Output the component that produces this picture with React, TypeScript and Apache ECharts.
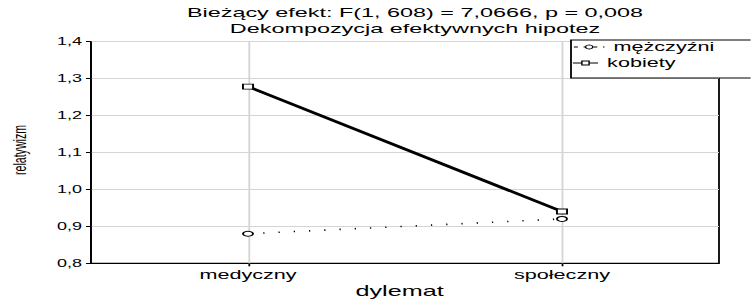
import React, { useEffect, useRef } from "react";
import * as echarts from "echarts";

const categories = ["medyczny", "społeczny"];
const menValues = [0.88, 0.92];
const womenValues = [1.278, 0.94];
const seriesNames = ["mężczyźni", "kobiety"];
const yTicks = { min: 0.8, max: 1.4, interval: 0.1 };
const titleLines = ["Bieżący efekt: F(1, 608) = 7,0666, p = 0,008", "Dekompozycja efektywnych hipotez"];
const xName = "dylemat";
const yName = "relatywizm";

const W = 751;
const H = 299;
const SX = 1.8; // horizontal stretch of the original picture
const VW = W / SX;
const FONT = "'Liberation Sans', Arial, Helvetica, sans-serif";

export default function App() {
  const ref = useRef<HTMLDivElement>(null);
  useEffect(() => {
    if (!ref.current) return;
    const chart = echarts.init(ref.current, undefined, { renderer: "svg", width: VW, height: H });
    const gridLeft = 91 / SX;
    const gridRight = VW - 719 / SX;
    chart.setOption({
      animation: false,
      backgroundColor: "#ffffff",
      textStyle: { fontFamily: FONT },
      title: {
        text: titleLines.join("\n"),
        left: 415 / SX,
        top: 5,
        padding: 0,
        textAlign: "center",
        textStyle: { fontFamily: FONT, fontSize: 13, fontWeight: "normal", color: "#000", lineHeight: 16 },
      },
      grid: {
        left: gridLeft,
        right: gridRight,
        top: 41.5,
        bottom: H - 263.3,
        show: true,
        borderColor: "#000",
        borderWidth: 1,
        backgroundColor: "transparent",
        containLabel: false,
        outerBoundsMode: "none",
      },
      legend: [
        {
          data: [seriesNames[0]],
          left: 573 / SX,
          top: 40,
          padding: 0,
          itemWidth: 17,
          itemHeight: 5,
          itemGap: 2,
          z: 120,
          itemStyle: { borderWidth: 0.8 },
          textStyle: { fontFamily: FONT, fontSize: 12, color: "#000", lineHeight: 14 },
          lineStyle: { type: [2.2, 3.2], width: 1, color: "#000" },
        },
        {
          data: [seriesNames[1]],
          left: 572 / SX,
          top: 56,
          padding: 0,
          itemWidth: 14,
          itemHeight: 5,
          itemGap: 2,
          z: 120,
          itemStyle: { borderWidth: 0.8 },
          textStyle: { fontFamily: FONT, fontSize: 12, color: "#000", lineHeight: 14 },
          lineStyle: { type: "solid", width: 1, color: "#000" },
        },
      ],
      graphic: [
        {
          type: "rect",
          z: 110,
          shape: { x: 571 / SX, y: 40, width: 120, height: 38 },
          style: { fill: "#fff", stroke: "#000", lineWidth: 1 },
        },
        {
          type: "text",
          z: 110,
          x: 19 / SX,
          y: 150,
          rotation: Math.PI / 2,
          style: {
            text: yName,
            fontFamily: FONT,
            fontSize: 10.6,
            fill: "#000",
            align: "center",
            verticalAlign: "middle",
          },
        },
      ],
      xAxis: {
        type: "category",
        data: categories,
        boundaryGap: true,
        name: xName,
        nameLocation: "middle",
        nameGap: 20,
        nameMoveOverlap: false,
        nameTextStyle: { fontFamily: FONT, fontSize: 14, lineHeight: 15, color: "#000", padding: [0, 6, 0, 0] },
        axisLine: { show: true, lineStyle: { color: "#000", width: 1 } },
        axisTick: { show: true, alignWithLabel: true, length: 3, lineStyle: { color: "#000" } },
        axisLabel: { fontFamily: FONT, fontSize: 12, color: "#000", margin: 6 },
        splitLine: { show: false },
      },
      yAxis: {
        type: "value",
        min: yTicks.min,
        max: yTicks.max,
        interval: yTicks.interval,
        axisLine: { show: true, lineStyle: { color: "#000", width: 1 } },
        axisTick: { show: true, length: 2.8, lineStyle: { color: "#000" } },
        axisLabel: {
          fontFamily: FONT,
          fontSize: 10,
          color: "#000",
          margin: 5,
          formatter: (v: number) => v.toFixed(1).replace(".", ","),
        },
        splitLine: { show: true, lineStyle: { color: "#d4d4d4", width: 1 } },
      },
      series: [
        {
          name: seriesNames[0],
          type: "line",
          data: menValues,
          symbol: "circle",
          symbolSize: [5.6, 5],
          z: 4,
          itemStyle: { color: "#fff", borderColor: "#000", borderWidth: 1 },
          lineStyle: { color: "#000", width: 1.6, type: [0.7, 7.8] },
          markLine: {
            silent: true,
            symbol: "none",
            label: { show: false },
            z: 1,
            lineStyle: { color: "#d4d4d4", width: 1, type: "solid" },
            data: categories.map((c) => ({ xAxis: c })),
          },
        },
        {
          name: seriesNames[1],
          type: "line",
          data: womenValues,
          symbol: "rect",
          symbolSize: [5.6, 5],
          z: 5,
          itemStyle: { color: "#fff", borderColor: "#000", borderWidth: 1 },
          lineStyle: { color: "#000", width: 2.5, type: "solid" },
        },
      ],
    });
    return () => chart.dispose();
  }, []);

  return (
    <div style={{ position: "fixed", left: 0, top: 0, width: W, height: H, overflow: "hidden", background: "#fff" }}>
      <div
        ref={ref}
        style={{ width: VW, height: H, transform: `scaleX(${SX})`, transformOrigin: "0 0" }}
      />
    </div>
  );
}
